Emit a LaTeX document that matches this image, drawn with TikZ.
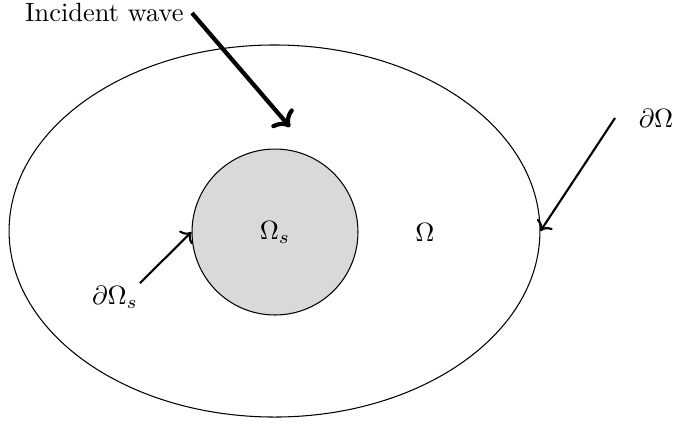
\documentclass[tikz,border=0pt]{standalone}
\usepackage{amsmath}
\usepackage{xcolor}
\usepackage{tikz}
\usetikzlibrary{arrows.meta,shapes.geometric}
\definecolor{scatgray}{HTML}{D9D9D9}

\begin{document}
\begin{tikzpicture}[x=0.379pt,y=-0.379pt]
  \useasboundingbox (0,0) rectangle (673,423);
  \node[draw,ellipse,minimum width=201.2pt,minimum height=141pt,inner sep=0pt] (dom) at (274.5,231) {};
  \node[draw,circle,fill=scatgray,minimum size=62.9pt,inner sep=0pt] (scat) at (275,232) {$\Omega_s$};
  \node (om) at (425,232) {$\Omega$};
  \node[anchor=east,inner sep=0pt] (inc) at (184,12) {Incident wave};
  \node (bdom) at (656,118) {$\partial\Omega$};
  \node (bscat) at (115,297) {$\partial\Omega_s$};
  \coordinate (incstart) at (192,13);
  \coordinate (inctip) at (290,127);
  \coordinate (bdomstart) at (615,118);
  \coordinate (bscatstart) at (140,283);
  \draw[->,ultra thick] (incstart) -- (inctip);
  \draw[->,thick] (bdomstart) -- (dom.east);
  \draw[->,thick] (bscatstart) -- (scat.west);
\end{tikzpicture}
\end{document}
